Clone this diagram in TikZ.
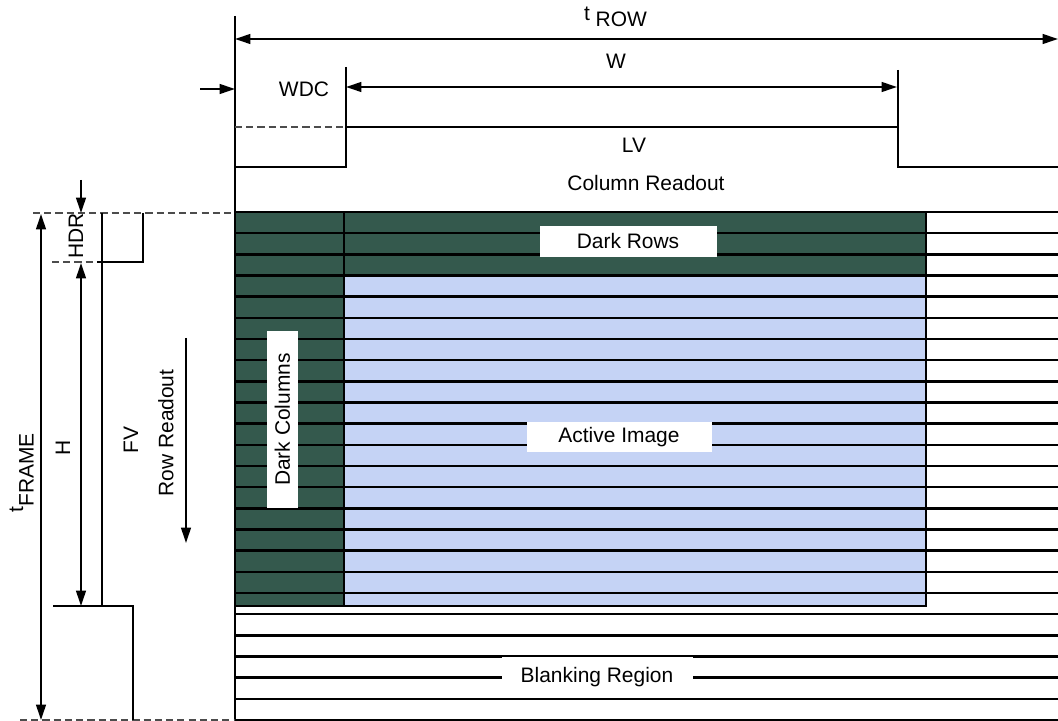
\documentclass[tikz,border=0pt]{standalone}
\usepackage{fontspec}
\setmainfont{Liberation Sans}
\usetikzlibrary{positioning, arrows.meta}
\definecolor{darkpix}{RGB}{52,89,77}
\definecolor{activepix}{RGB}{197,211,245}

\begin{document}
\begin{tikzpicture}[x=0.25mm, y=-0.25mm, font=\fontsize{14.9}{17}\selectfont]
\tikzstyle{dimline}=[draw, line width=1.3pt, {Triangle[length=11pt,width=7pt]}-{Triangle[length=11pt,width=7pt]}]
\tikzstyle{tipline}=[draw, line width=1.3pt, -{Triangle[length=11pt,width=7pt]}]
\tikzstyle{wave}=[draw, line width=1.3pt]
\tikzstyle{guide}=[draw, gray!60!black, line width=1.1pt, dash pattern=on 5pt off 3pt]
\tikzstyle{gridline}=[draw, line width=1.8pt]
\tikzstyle{tagbox}=[fill=white, inner sep=0pt, minimum width=44.25mm, minimum height=7.75mm]

\useasboundingbox (0,0) rectangle (1058,721);

% pixel array
\fill[darkpix] (235,212) rectangle (926,606);
\fill[activepix] (344,275) rectangle (926,606);
\foreach \r in {0,...,24}
  \draw[gridline] (235,{212+21.17*\r}) -- (1058,{212+21.17*\r});
\draw[gridline] (235,212) rectangle (926,606);
\draw[gridline] (344,212) -- (344,606);
\draw[gridline] (344,275) rectangle (926,606);

\node[tagbox](dark-rows) at (628,241.5) {Dark Rows};
\node[tagbox, rotate=90](dark-cols) at (282.5,419.5) {Dark Columns};
\node[tagbox, minimum width=46.25mm, minimum height=7.5mm](active) at (619,437) {Active Image};
\node[tagbox, minimum width=47.75mm, minimum height=10mm](blanking) at (597,677) {Blanking Region};

% row timing
\coordinate (edge-top) at (235,16);
\coordinate (edge-bot) at (235,721);
\draw[wave] (edge-top) -- (edge-bot);

\coordinate (row-l) at (235,39);
\coordinate (row-r) at (1058,39);
\draw[dimline] (row-l) -- (row-r);
\node[anchor=base](t-row) at (615.5,27) {\raisebox{0.33em}{t} ROW};

\coordinate (wdc-in) at (200,89);
\coordinate (wdc-tip) at (235,89);
\draw[tipline] (wdc-in) -- (wdc-tip);
\node(wdc) at (304,89) {WDC};

\coordinate (w-l) at (346,87);
\coordinate (w-r) at (897,87);
\draw[dimline] (w-l) -- (w-r);
\node(w) at (616,61.5) {W};

\draw[wave] (898,70) -- (898,127);
\draw[guide] (235,127) -- (346,127);
\draw[wave] (346,67) -- (346,167);
\draw[wave] (235,167) -- (346,167) -- (346,127) -- (898,127) -- (898,167) -- (1058,167);
\node(lv) at (634,145) {LV};
\node(col-readout) at (646,183) {Column Readout};

% frame timing
\draw[guide] (33,213) -- (235,213);
\draw[guide] (20,720) -- (235,720);
\draw[guide] (52,262) -- (97,262);

\coordinate (frame-top) at (41,214);
\coordinate (frame-bot) at (41,720);
\draw[dimline] (frame-top) -- (frame-bot);
\node[rotate=90, anchor=base](t-frame) at (33.5,473) {\raisebox{0.5em}{t}FRAME};

\coordinate (hdr-in) at (81,180);
\coordinate (hdr-tip) at (81,213);
\draw[tipline] (hdr-in) -- (hdr-tip);
\node[rotate=90](hdr) at (76,236) {HDR};

\coordinate (h-top) at (81,263);
\coordinate (h-bot) at (81,606);
\draw[dimline] (h-top) -- (h-bot);
\node[rotate=90](h) at (63,448) {H};

\draw[wave] (102,213) -- (102,606);
\draw[wave] (143,213) -- (143,262) -- (97,262);
\draw[wave] (53,606) -- (133,606) -- (133,720);
\node[rotate=90](fv) at (131,440) {FV};

\node[rotate=90](row-readout) at (166,433) {Row Readout};
\coordinate (readout-in) at (186,338);
\coordinate (readout-tip) at (186,543);
\draw[tipline] (readout-in) -- (readout-tip);

\end{tikzpicture}
\end{document}
